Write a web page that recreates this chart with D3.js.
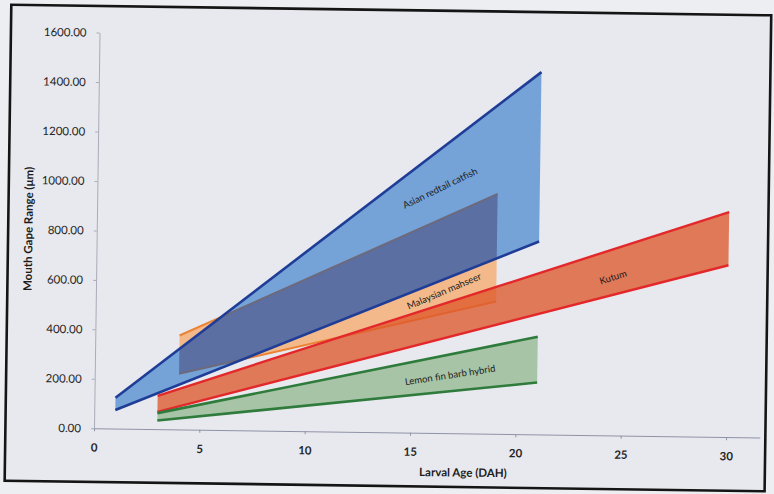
<!DOCTYPE html>
<html>
<head>
<meta charset="utf-8">
<script src="https://cdn.jsdelivr.net/npm/d3@7"></script>
<style>
  html, body { margin: 0; padding: 0; background: #eceef2; }
  svg { display: block; }
</style>
</head>
<body>
<svg id="chart" width="774" height="494"></svg>
<script>
// ---- data -------------------------------------------------------------
const ageTicks  = [0, 5, 10, 15, 20, 25, 30];
const gapeTicks = [0, 200, 400, 600, 800, 1000, 1200, 1400, 1600];
const speciesNames = ["Asian redtail catfish", "Malaysian mahseer", "Kutum", "Lemon fin barb hybrid"];

// mouth gape range (µm): minimum and maximum at first and last larval age (DAH)
const catfishAge = [1, 21];
const catfishMin = [75, 780];
const catfishMax = [125, 1465];

const mahseerAge = [4, 19];
const mahseerMin = [225, 535];
const mahseerMax = [380, 970];

const kutumAge = [3, 30];
const kutumMin = [70, 695];
const kutumMax = [135, 910];

const lemonAge = [3, 21];
const lemonMin = [35, 210];
const lemonMax = [65, 395];

// ---- layout -----------------------------------------------------------
const svg = d3.select("#chart");
const x = d3.scaleLinear().domain([0, 31.6]).range([94, 94 + 31.6 * 21.07]);
const y = d3.scaleLinear().domain([0, 1600]).range([428.3, 32.5]);
const font = "Lato, 'Open Sans', 'Liberation Sans', sans-serif";

// the printed sheet sits slightly askew
const g = svg.append("g").attr("transform", "rotate(0.8,94,428.3)");

g.append("rect")
  .attr("x", 5.4).attr("y", 5.9).attr("width", 760).attr("height", 476)
  .attr("fill", "#e8e9ee").attr("stroke", "#151515").attr("stroke-width", 2.6);

// ---- axes -------------------------------------------------------------
const yAxis = g.append("g").attr("transform", `translate(${x(0)},0)`)
  .call(d3.axisLeft(y).tickValues(gapeTicks).tickSize(3).tickSizeOuter(0)
    .tickPadding(10).tickFormat(d3.format(".2f")));
yAxis.selectAll("path, line").attr("stroke", "#a9acb8");
yAxis.selectAll("text").attr("font-family", font).attr("font-size", 11.5).attr("fill", "#262626");

const xAxis = g.append("g").attr("transform", `translate(0,${y(0)})`)
  .call(d3.axisBottom(x).tickValues(ageTicks).tickSize(3).tickSizeOuter(0).tickPadding(12));
xAxis.selectAll("path, line").attr("stroke", "#8f93a6");
xAxis.selectAll("text").attr("font-family", font).attr("font-size", 11.5)
  .attr("font-weight", 700).attr("fill", "#262626");

g.append("text")
  .attr("x", 463.6).attr("y", 471.5)
  .attr("text-anchor", "middle")
  .attr("font-family", font).attr("font-size", 11.5).attr("font-weight", 700).attr("fill", "#1c1c1c")
  .text("Larval Age (DAH)");

g.append("text")
  .attr("transform", "translate(25.2,229.9) rotate(-90)")
  .attr("text-anchor", "middle").attr("dominant-baseline", "central")
  .attr("font-family", font).attr("font-size", 11.5).attr("font-weight", 700).attr("fill", "#1c1c1c")
  .text("Mouth Gape Range (\u03bcm)");

// ---- bands ------------------------------------------------------------
const band = (ages, lows, highs) => ages.map((a, i) => ({ age: a, low: lows[i], high: highs[i] }));
const catfish = band(catfishAge, catfishMin, catfishMax);
const mahseer = band(mahseerAge, mahseerMin, mahseerMax);
const kutum   = band(kutumAge, kutumMin, kutumMax);
const lemon   = band(lemonAge, lemonMin, lemonMax);

const area = d3.area().x(d => x(d.age)).y0(d => y(d.low)).y1(d => y(d.high));
const lowLine  = d3.line().x(d => x(d.age)).y(d => y(d.low));
const highLine = d3.line().x(d => x(d.age)).y(d => y(d.high));

g.append("defs").append("clipPath").attr("id", "catfish-clip")
  .append("path").attr("d", area(catfish));

function edges(data, color, width, parent) {
  [lowLine, highLine].forEach(fn => parent.append("path")
    .attr("d", fn(data)).attr("fill", "none")
    .attr("stroke", color).attr("stroke-width", width).attr("stroke-linecap", "butt"));
}

// Malaysian mahseer
g.append("path").attr("d", area(mahseer)).attr("fill", "#f3b98a");
edges(mahseer, "#ec8233", 2, g);

// Asian redtail catfish, with the shared mahseer range shaded darker
g.append("path").attr("d", area(catfish)).attr("fill", "#75a3d8");
const overlap = g.append("g").attr("clip-path", "url(#catfish-clip)");
overlap.append("path").attr("d", area(mahseer)).attr("fill", "#5b6fa3");
edges(mahseer, "#6c6a7c", 2, overlap);
edges(catfish, "#1f3d97", 2.6, g);

// Kutum
g.append("path").attr("d", area(kutum)).attr("fill", "rgb(222,90,45)").attr("fill-opacity", 0.78);
edges(kutum, "#e3282b", 2.4, g);

// Lemon fin barb hybrid
g.append("path").attr("d", area(lemon)).attr("fill", "#a7c4a7");
edges(lemon, "#2e7b3b", 2.6, g);

// ---- band labels ------------------------------------------------------
const labelSpots = [
  { age: 16.26, gape: 991, angle: -26.6 },
  { age: 16.52, gape: 575, angle: -23.6 },
  { age: 24.53, gape: 641, angle: -18.8 },
  { age: 16.86, gape: 236, angle: -9.5 }
];
g.append("g").selectAll("text").data(speciesNames).join("text")
  .attr("transform", (d, i) => `translate(${x(labelSpots[i].age)},${y(labelSpots[i].gape)}) rotate(${labelSpots[i].angle})`)
  .attr("text-anchor", "middle").attr("dominant-baseline", "central")
  .attr("font-family", font).attr("font-size", 9.5).attr("fill", "#1b1b1b")
  .text(d => d);
</script>
</body>
</html>
